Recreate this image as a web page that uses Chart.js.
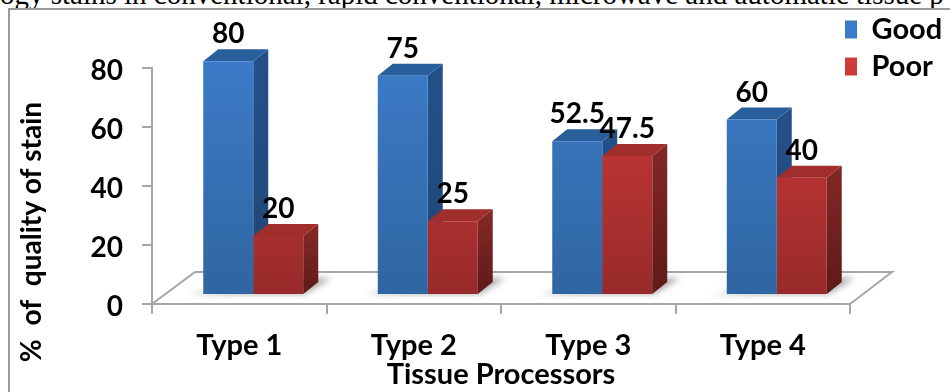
<!DOCTYPE html>
<html>

<head>
    <script src="https://cdn.jsdelivr.net/npm/chart.js@4/dist/chart.umd.js"></script>
    <style>
        body {
            margin: 0;
            background: #fff;
            overflow: hidden;
        }

        #caption {
            position: absolute;
            left: 0;
            top: -22px;
            width: 950px;
            white-space: nowrap;
            font: 29px "Liberation Serif", serif;
            color: #000;
        }

        #frame {
            position: absolute;
            left: 8px;
            top: 8px;
            width: 950px;
            height: 400px;
            box-sizing: border-box;
            border: 2px solid #9a9a9a;
        }

        canvas {
            position: absolute;
            left: 0;
            top: 0;
        }
    </style>
</head>

<body>
    <div id="caption">ogy stains in conventional, rapid conventional, microwave and automatic tissue p</div>
    <div id="frame"></div>
    <canvas id="chart" width="950" height="392"></canvas>

    <script>
        const categories = ['Type 1', 'Type 2', 'Type 3', 'Type 4']
        const good = [80, 75, 52.5, 60]
        const poor = [20, 25, 47.5, 40]
        const yTicks = [0, 20, 40, 60, 80]
        const yTitle = '%  of  quality of stain'
        const xTitle = 'Tissue Processors'

        const fontName = 'Lato, sans-serif'
        const lineGrey = '#a6a6a6'
        const shiftX = 14
        const depthX = 15
        const depthY = 12

        // front face colour, fades downwards
        function faceFill(top, bottom) {
            return function (c) {
                const area = c.chart.chartArea
                if (!area) return top
                const g = c.chart.ctx.createLinearGradient(0, area.top - 10, 0, area.bottom)
                g.addColorStop(0, top)
                g.addColorStop(1, bottom)
                return g
            }
        }

        const box3d = {
            id: 'box3d',
            afterLayout(chart) {
                // legend sits up in the corner, above the plot
                const l = chart.legend
                l.left = 837
                l.top = 7
                l.adjustHitBoxes()
            },
            beforeDatasetsDraw(chart) {
                const ctx = chart.ctx
                const a = chart.chartArea
                ctx.save()
                // floor
                ctx.strokeStyle = lineGrey
                ctx.lineWidth = 2
                ctx.beginPath()
                ctx.moveTo(a.left, a.bottom)
                ctx.lineTo(a.left + 43, a.bottom - 32)
                ctx.lineTo(a.right + 42, a.bottom - 32)
                ctx.lineTo(a.right, a.bottom)
                ctx.stroke()
                // shadows
                const sets = [chart.getDatasetMeta(0).data, chart.getDatasetMeta(1).data]
                ctx.filter = 'blur(3px)'
                ctx.fillStyle = '#a9a9a9'
                sets[0].forEach(function (b, i) {
                    const x0 = b.x - b.width / 2 + shiftX
                    const x1 = sets[1][i].x + b.width / 2 + shiftX
                    const base = b.base
                    ctx.beginPath()
                    ctx.moveTo(x0 - 14, base)
                    ctx.lineTo(x1 + 2, base)
                    ctx.lineTo(x1 + 28, base - 16)
                    ctx.lineTo(x1, base - 16)
                    ctx.fill()
                })
                ctx.filter = 'none'
                // side and top faces
                const tones = [['#2a5f9e', '#24508a', '#1f4674'], ['#a02e2b', '#802725', '#5e1a19']]
                sets.forEach(function (bars, s) {
                    bars.forEach(function (b) {
                        const x1 = b.x + b.width / 2 + shiftX
                        const x0 = x1 - b.width
                        const side = ctx.createLinearGradient(0, b.y, 0, b.base)
                        side.addColorStop(0, tones[s][1])
                        side.addColorStop(1, tones[s][2])
                        ctx.fillStyle = side
                        ctx.beginPath()
                        ctx.moveTo(x1, b.y)
                        ctx.lineTo(x1 + depthX, b.y - depthY)
                        ctx.lineTo(x1 + depthX, b.base - depthY)
                        ctx.lineTo(x1, b.base)
                        ctx.fill()
                        ctx.fillStyle = tones[s][0]
                        ctx.beginPath()
                        ctx.moveTo(x0, b.y)
                        ctx.lineTo(x0 + depthX, b.y - depthY)
                        ctx.lineTo(x1 + depthX, b.y - depthY)
                        ctx.lineTo(x1, b.y)
                        ctx.fill()
                    })
                })
                ctx.restore()
                // front faces get shifted too
                ctx.save()
                ctx.translate(shiftX, 0)
            },
            afterDatasetsDraw(chart) {
                const ctx = chart.ctx
                ctx.restore()
                ctx.save()
                ctx.fillStyle = '#000'
                ctx.font = 'bold 28px ' + fontName
                ctx.textAlign = 'center'
                ctx.textBaseline = 'middle'
                chart.data.datasets.forEach(function (ds, s) {
                    chart.getDatasetMeta(s).data.forEach(function (b, i) {
                        ctx.fillText(ds.data[i], b.x + shiftX, b.y - 27)
                    })
                })
                // y title sits lower than the plot centre
                ctx.translate(32, 232)
                ctx.rotate(-Math.PI / 2)
                ctx.fillText(yTitle, 0, 0)
                ctx.restore()
            },
            afterDraw(chart) {
                // legend swatches: wider than the legend box, with a bevel
                const ctx = chart.ctx
                const fronts = ['#2f69b0', '#b5302e']
                const lights = ['#6fb0f0', '#f07a78']
                const edges = ['#24508a', '#7c2422']
                ctx.save()
                chart.legend.legendHitBoxes.forEach(function (h, i) {
                    const x = h.left
                    const y = h.top + 5
                    ctx.fillStyle = edges[i]
                    ctx.fillRect(x, y, 19, 18)
                    ctx.fillStyle = fronts[i]
                    ctx.fillRect(x + 2, y + 2, 15, 14)
                    ctx.fillStyle = lights[i]
                    ctx.beginPath()
                    ctx.moveTo(x + 1, y + 1)
                    ctx.lineTo(x + 18, y + 1)
                    ctx.lineTo(x + 9.5, y + 9)
                    ctx.fill()
                })
                ctx.restore()
            }
        }

        new Chart(document.getElementById('chart').getContext('2d'), {
            type: 'bar',
            plugins: [box3d],
            data: {
                labels: categories,
                datasets: [{
                    label: 'Good',
                    backgroundColor: faceFill('#3c7bc8', '#2f659f'),
                    data: good,
                    yAxisID: 'yBars',
                    clip: false
                }, {
                    label: 'Poor',
                    backgroundColor: faceFill('#d03c39', '#96292a'),
                    data: poor,
                    yAxisID: 'yBars',
                    clip: false
                }]
            },
            options: {
                responsive: false,
                animation: false,
                layout: {
                    padding: { top: 68, left: 0, right: 0, bottom: 0 }
                },
                barPercentage: 1,
                categoryPercentage: 0.573,
                plugins: {
                    title: { display: false },
                    tooltip: { enabled: false },
                    legend: {
                        position: 'right',
                        align: 'start',
                        maxWidth: 100,
                        labels: {
                            boxWidth: 12,
                            boxHeight: 18,
                            padding: 8,
                            color: '#000',
                            font: { family: fontName, weight: 'bold', size: 29 }
                        }
                    }
                },
                scales: {
                    x: {
                        afterFit(s) { s.height = 88 },
                        grid: { drawOnChartArea: false, tickLength: 10, color: lineGrey, lineWidth: 2 },
                        border: { color: lineGrey, width: 2 },
                        ticks: {
                            color: '#000',
                            padding: 14,
                            maxRotation: 0,
                            font: { family: fontName, weight: 'bold', size: 29 }
                        },
                        title: {
                            display: true,
                            text: xTitle,
                            color: '#000',
                            padding: { top: 0, bottom: 0 },
                            font: { family: fontName, weight: 'bold', size: 29 }
                        }
                    },
                    y: {
                        min: 0,
                        max: 80,
                        afterFit(s) { s.width = 152 },
                        afterBuildTicks(s) { s.ticks = yTicks.map(function (v) { return { value: v } }) },
                        grid: { drawOnChartArea: false, tickLength: 10, color: lineGrey, lineWidth: 2 },
                        border: { color: lineGrey, width: 2 },
                        ticks: {
                            color: '#000',
                            padding: 19,
                            labelOffset: 3,
                            font: { family: fontName, weight: 'bold', size: 28 }
                        }
                    },
                    // bars stand back from the axis, on the floor
                    yBars: {
                        display: false,
                        min: -3.4,
                        max: 77.7
                    }
                }
            }
        })
    </script>
</body>

</html>
